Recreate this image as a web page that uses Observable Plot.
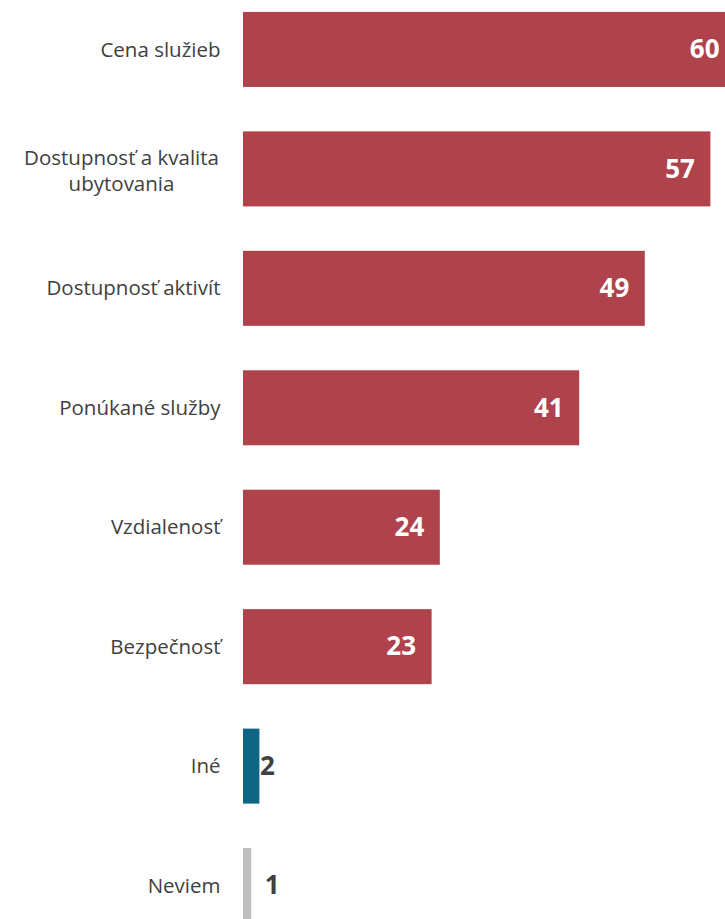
<!DOCTYPE html>
<html>
<head>
<meta charset="utf-8">
<script src="https://cdn.jsdelivr.net/npm/d3@7"></script>
<script src="https://cdn.jsdelivr.net/npm/@observablehq/plot@0.6"></script>
<style>
  html, body { margin: 0; padding: 0; background: #fff; overflow: hidden; }
</style>
</head>
<body>
<div id="chart"></div>
<script>
const categories = [
  "Cena služieb",
  "Dostupnosť a kvalita\nubytovania",
  "Dostupnosť aktivít",
  "Ponúkané služby",
  "Vzdialenosť",
  "Bezpečnosť",
  "Iné",
  "Neviem"
];
const values = [60, 57, 49, 41, 24, 23, 2, 1];
const groups = ["main", "main", "main", "main", "main", "main", "other", "unknown"];

const data = categories.map((c, i) => ({ category: c, value: values[i], group: groups[i] }));
const multiLine = categories[1];

const chart = Plot.plot({
  width: 725,
  height: 919,
  marginLeft: 243,
  marginRight: 0,
  marginTop: 0,
  marginBottom: 0,
  style: { fontFamily: "'Open Sans', sans-serif", background: "#fff" },
  x: { domain: [0, 60], range: [243, 735], axis: null },
  y: { domain: categories, range: [0, 935], paddingInner: 0.372, paddingOuter: 0.1, round: false, axis: null },
  color: { domain: ["main", "other", "unknown"], range: ["#AF424A", "#0E6584", "#BFBFBF"] },
  marks: [
    Plot.barX(data, { x: "value", y: "category", fill: "group" }),
    Plot.axisY({
      tickSize: 0, tickPadding: 23, fontSize: 20.5, fill: "#404040", label: null,
      ticks: categories.filter(c => c !== multiLine)
    }),
    Plot.axisY({
      tickSize: 0, tickPadding: 122, fontSize: 20.5, fill: "#404040", label: null,
      ticks: [multiLine], textAnchor: "middle", lineHeight: 1.27
    }),
    Plot.text(data.filter(d => d.group === "main"), {
      x: "value", y: "category", text: d => String(d.value),
      textAnchor: "end", dx: -16, fill: "#fff", fontSize: 26, fontWeight: "bold"
    }),
    Plot.text(data.filter(d => d.group === "other"), {
      x: "value", y: "category", text: d => String(d.value),
      textAnchor: "start", dx: 0, fill: "#404040", fontSize: 26, fontWeight: "bold"
    }),
    Plot.text(data.filter(d => d.group === "unknown"), {
      x: "value", y: "category", text: d => String(d.value),
      textAnchor: "start", dx: 13, fill: "#404040", fontSize: 26, fontWeight: "bold"
    })
  ]
});
document.getElementById("chart").appendChild(chart);
</script>
</body>
</html>
